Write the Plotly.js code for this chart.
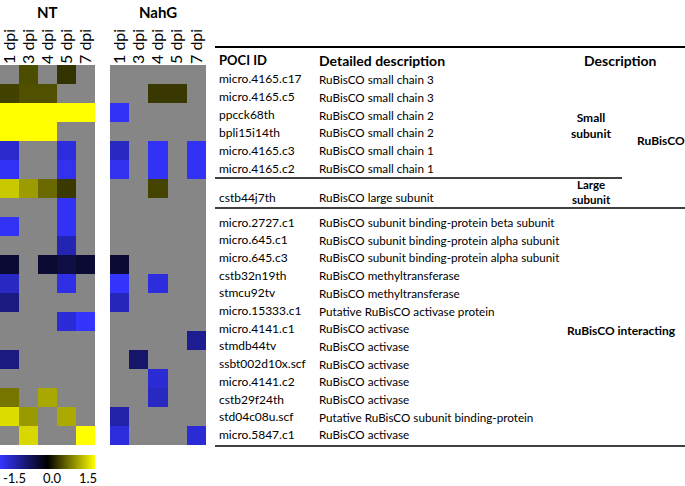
<!DOCTYPE html>
<html>
<head>
<meta charset="utf-8">
<script src="https://cdn.plot.ly/plotly-3.0.1.min.js"></script>
<style>html,body{margin:0;padding:0;background:#fff;}#chart{width:685px;height:486px;}</style>
</head>
<body>
<div id="chart"></div>
<script>
// ---- data ----
var dpiLabels = ["1 dpi", "3 dpi", "4 dpi", "5 dpi", "7 dpi"];
var pociIds = ["micro.4165.c17", "micro.4165.c5", "ppcck68th", "bpli15i14th", "micro.4165.c3", "micro.4165.c2",
  "cstb44j7th", "micro.2727.c1", "micro.645.c1", "micro.645.c3", "cstb32n19th", "stmcu92tv", "micro.15333.c1",
  "micro.4141.c1", "stmdb44tv", "ssbt002d10x.scf", "micro.4141.c2", "cstb29f24th", "std04c08u.scf", "micro.5847.c1"];
var detailedDescriptions = ["RuBisCO small chain 3", "RuBisCO small chain 3", "RuBisCO small chain 2", "RuBisCO small chain 2",
  "RuBisCO small chain 1", "RuBisCO small chain 1", "RuBisCO large subunit",
  "RuBisCO subunit binding-protein beta subunit", "RuBisCO subunit binding-protein alpha subunit",
  "RuBisCO subunit binding-protein alpha subunit", "RuBisCO methyltransferase", "RuBisCO methyltransferase",
  "Putative RuBisCO activase protein", "RuBisCO activase", "RuBisCO activase", "RuBisCO activase",
  "RuBisCO activase", "RuBisCO activase", "Putative RuBisCO subunit binding-protein", "RuBisCO activase"];
var ntValues = [
  [null, 0.45, null, 0.3, null],
  [0.38, 0.47, 0.47, null, null],
  [1.5, 1.5, 1.5, 1.5, 1.5],
  [1.5, 1.5, 1.5, null, null],
  [-1.2, null, null, -1.3, null],
  [-1.45, null, null, -1.4, null],
  [1.18, 0.92, 0.62, 0.34, null],
  [null, null, null, -1.45, null],
  [-1.45, null, null, -1.45, null],
  [null, null, null, -1.05, null],
  [-0.3, null, -0.3, -0.4, -0.3],
  [-1.15, null, null, -1.35, null],
  [-0.75, null, null, null, null],
  [null, null, null, -1.25, -1.5],
  [null, null, null, null, null],
  [-0.75, null, null, null, null],
  [null, null, null, null, null],
  [0.69, null, 0.99, null, null],
  [1.3, 0.9, null, 1.0, null],
  [null, 1.27, null, null, 1.5]
];
var nahgValues = [
  [null, null, null, null, null],
  [null, null, 0.33, 0.33, null],
  [-1.45, null, null, null, null],
  [null, null, null, null, null],
  [-1.15, null, -1.45, null, -1.45],
  [-1.4, null, -1.45, null, -1.45],
  [null, null, 0.4, null, null],
  [null, null, null, null, null],
  [null, null, null, null, null],
  [null, null, null, null, null],
  [-0.3, null, null, null, null],
  [-1.5, null, -1.3, null, null],
  [-1.1, null, null, null, null],
  [null, null, null, null, null],
  [null, null, null, null, -0.85],
  [null, -0.62, null, null, null],
  [null, null, -1.25, null, null],
  [null, null, -1.15, null, null],
  [-1.0, null, null, null, null],
  [-1.3, null, null, null, -1.25]
];
var colorTicks = [-1.5, 0.0, 1.5];
var colorTickText = ["-1.5", "0.0", "1.5"];

// ---- layout helpers ----
var W = 685, H = 486;
var FONT = "Lato, 'Open Sans', sans-serif";
function px(x){ return x / W; }
function py(y){ return 1 - y / H; }

var traces = [
  {type: 'heatmap', x: dpiLabels, y: pociIds, z: ntValues, coloraxis: 'coloraxis',
   xaxis: 'x', yaxis: 'y', hoverongaps: false},
  {type: 'heatmap', x: dpiLabels, y: pociIds, z: nahgValues, coloraxis: 'coloraxis',
   xaxis: 'x2', yaxis: 'y', hoverongaps: false}
];

// table row positions (pixels)
function rowY(i){
  if (i < 6) return 79 + i * 17.8;
  if (i === 6) return 197;
  return 222 + (i - 7) * 17.7;
}

var annotations = [];
var ann = function(text, x, y, opts){
  var a = {text: text, x: px(x), y: py(y), xref: 'paper', yref: 'paper', showarrow: false,
    xanchor: 'left', yanchor: 'middle', font: {family: FONT, size: 12, color: '#000'}};
  for (var k in opts) a[k] = opts[k];
  annotations.push(a);
};
// titles
ann('<b>NT</b>', 47.5, 12, {xanchor: 'center', font: {family: FONT, size: 15, color: '#000'}});
ann('<b>NahG</b>', 158, 12, {xanchor: 'center', font: {family: FONT, size: 15, color: '#000'}});
// table header
ann('<b>POCI ID</b>', 217, 60, {font: {family: FONT, size: 13, color: '#000'}});
ann('<b>Detailed description</b>', 317, 60, {font: {family: FONT, size: 14, color: '#000'}});
ann('<b>Description</b>', 620, 60, {xanchor: 'center', font: {family: FONT, size: 14, color: '#000'}});
for (var i = 0; i < pociIds.length; i++) {
  ann(pociIds[i], 217, rowY(i));
  ann(detailedDescriptions[i], 317, rowY(i), {font: {family: FONT, size: 11.7, color: '#000'}});
}
var boldSmall = {xanchor: 'center', font: {family: FONT, size: 12, color: '#000'}};
ann('<b>Small</b><br><b>subunit</b>', 591, 125, boldSmall);
ann('<b>RuBisCO</b>', 661, 140, boldSmall);
ann('<b>Large</b><br><b>subunit</b>', 591, 192,
  {xanchor: 'center', font: {family: FONT, size: 11.5, color: '#000'}});
ann('<b>RuBisCO interacting</b>', 621, 330, boldSmall);
// colorbar labels
ann(colorTickText[0], 1, 478, {font: {family: FONT, size: 13, color: '#000'}});
ann(colorTickText[1], 52, 478, {xanchor: 'center', font: {family: FONT, size: 13, color: '#000'}});
ann(colorTickText[2], 88, 478, {xanchor: 'center', font: {family: FONT, size: 13, color: '#000'}});

var shapes = [];
function hline(x0, x1, y, w){
  shapes.push({type: 'line', xref: 'paper', yref: 'paper', x0: px(x0), x1: px(x1), y0: py(y), y1: py(y),
    line: {color: '#000', width: w}});
}
hline(215, 685, 47, 2);
hline(215, 622, 178, 1.5);
hline(215, 685, 208, 1.5);
hline(215, 685, 446, 1.5);

var xaxisBase = {type: 'category', side: 'top', tickangle: -90, ticks: '', showgrid: false, zeroline: false,
  showline: false, tickfont: {family: FONT, size: 16, color: '#000'}, fixedrange: true};
var layout = {
  width: W, height: H,
  margin: {l: 0, r: 0, t: 0, b: 0},
  paper_bgcolor: '#ffffff',
  plot_bgcolor: '#868686',
  showlegend: false,
  xaxis: Object.assign({}, xaxisBase, {domain: [0, px(95)], anchor: 'y'}),
  xaxis2: Object.assign({}, xaxisBase, {domain: [px(110), px(206)], anchor: 'y'}),
  yaxis: {type: 'category', autorange: 'reversed', domain: [py(445), py(65)], showticklabels: false,
    ticks: '', showgrid: false, zeroline: false, fixedrange: true},
  coloraxis: {
    cmin: -1.5, cmax: 1.5,
    colorscale: [[0, '#3434ff'], [0.5, '#000000'], [1, '#ffff00']],
    colorbar: {orientation: 'h', xref: 'paper', yref: 'paper', x: 0, xanchor: 'left', y: py(455), yanchor: 'top',
      lenmode: 'pixels', len: 95, thickness: 14, xpad: 0, ypad: 0, outlinewidth: 0, borderwidth: 0,
      tickvals: colorTicks, showticklabels: false, ticks: ''}
  },
  annotations: annotations,
  shapes: shapes
};
Plotly.newPlot('chart', traces, layout, {displayModeBar: false, staticPlot: true});
</script>
</body>
</html>
